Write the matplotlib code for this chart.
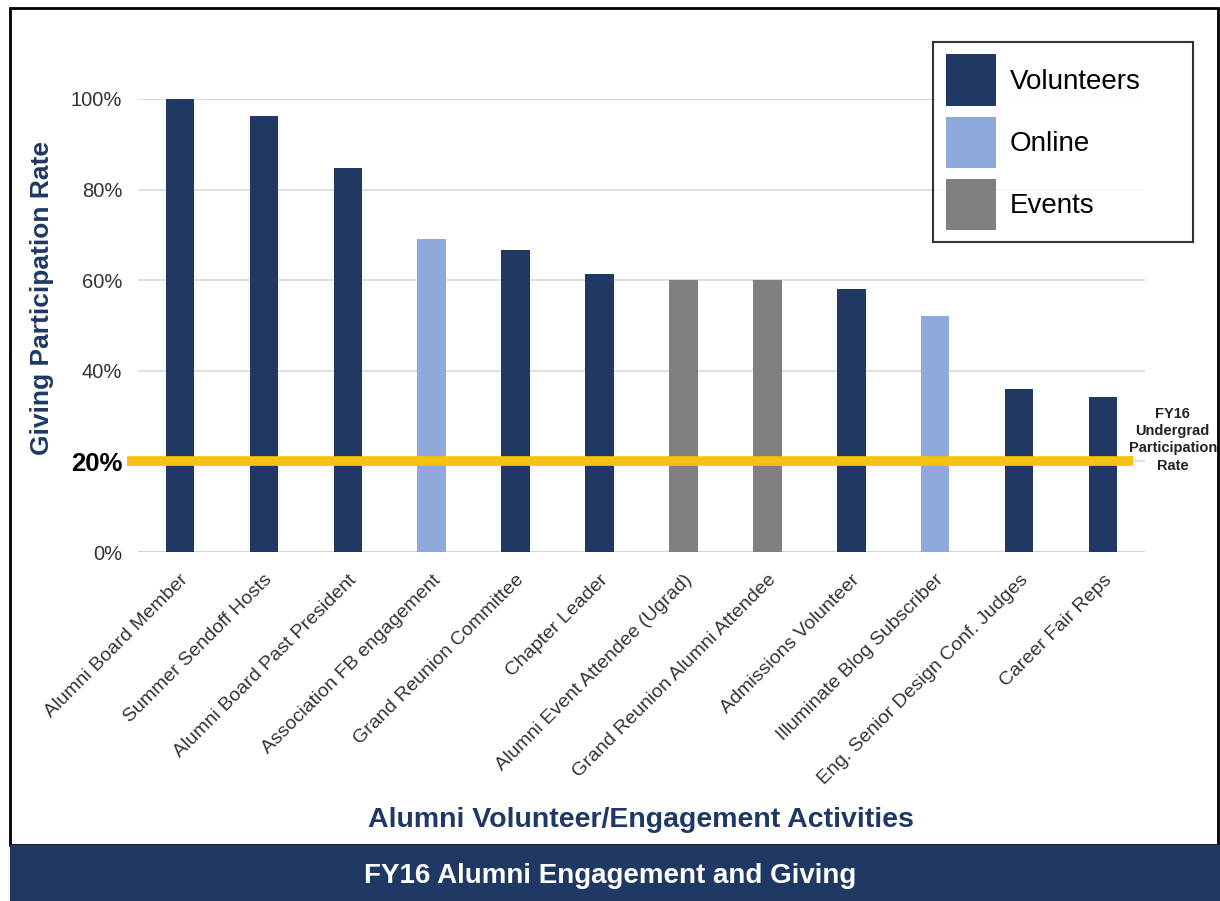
import matplotlib
matplotlib.use("Agg")
import matplotlib.pyplot as plt
from matplotlib.patches import Patch, Rectangle
from matplotlib.ticker import PercentFormatter

categories = ["Alumni Board Member", "Summer Sendoff Hosts", "Alumni Board Past President",
              "Association FB engagement", "Grand Reunion Committee", "Chapter Leader",
              "Alumni Event Attendee (Ugrad)", "Grand Reunion Alumni Attendee",
              "Admissions Volunteer", "Illuminate Blog Subscriber",
              "Eng. Senior Design Conf. Judges", "Career Fair Reps"]
values = [100, 96.2, 84.8, 69.1, 66.7, 61.4, 60.0, 60.0, 58.1, 52.1, 36.0, 34.2]
groups = ["Volunteers", "Volunteers", "Volunteers", "Online", "Volunteers", "Volunteers",
          "Events", "Events", "Volunteers", "Online", "Volunteers", "Volunteers"]
group_names = ["Volunteers", "Online", "Events"]
benchmark = 20
yticks = [0, 20, 40, 60, 80, 100]

colors = {"Volunteers": "#1F3864", "Online": "#8EA9DB", "Events": "#808080"}
NAVY = "#1F3864"

plt.rcParams['font.family'] = ['Liberation Sans', 'DejaVu Sans']

fig = plt.figure(figsize=(12.2, 9.01), dpi=100)
W, H = 1220, 901

def fx(px):
    return px / W

def fy(py):
    return 1 - py / H

# outer border
fig.patches.append(Rectangle((fx(10), fy(845)), fx(1208), (845 - 8) / H, transform=fig.transFigure,
                             fill=False, edgecolor="black", linewidth=2, zorder=0))
# bottom banner
fig.patches.append(Rectangle((fx(10), 0), fx(1210), fy(845), transform=fig.transFigure,
                             facecolor=NAVY, edgecolor="none", zorder=0))
fig.text(0.5, fy(876), "FY16 Alumni Engagement and Giving", color="white", fontsize=20,
         fontweight="bold", ha="center", va="center")

ax = fig.add_axes([fx(138), fy(552), fx(1145) - fx(138), (552 - 99) / H])
x = list(range(len(categories)))
ax.bar(x, values, width=0.34, color=[colors[g] for g in groups], zorder=3)
ax.set_xlim(-0.5, len(categories) - 0.5)
ax.set_ylim(0, 100)
ax.set_yticks(yticks)
ax.yaxis.set_major_formatter(PercentFormatter(decimals=0))
ax.grid(axis="y", color="#D9D9D9", linewidth=1.2, zorder=0)
for s in ax.spines.values():
    s.set_visible(False)
ax.axhline(0, color="#D0D4DC", linewidth=1.5, zorder=2)
ax.tick_params(axis="both", length=0, labelsize=14.5, labelcolor="#333333")
ax.tick_params(axis="y", pad=11.5)
ax.tick_params(axis="x", pad=14)
ax.set_xticks(x)
ax.set_xticklabels(categories, rotation=45, ha="right", rotation_mode="anchor", fontsize=14,
                   color="#333333")
for lab in ax.get_yticklabels():
    if lab.get_text() == "20%":
        lab.set_fontweight("bold")
        lab.set_fontsize(18.5)
        lab.set_color("black")

# benchmark line
ax.plot([-0.63, 11.36], [benchmark, benchmark], color="#F5C211", linewidth=7, zorder=4,
        clip_on=False, solid_capstyle="butt")
ax.text(11.83, benchmark + 4.8, "FY16\nUndergrad\nParticipation\nRate", fontsize=10.5,
        fontweight="bold", ha="center", va="center", color="#222222", linespacing=1.3,
        clip_on=False)

fig.text(fx(42), fy(298), "Giving Participation Rate", rotation=90, color=NAVY, fontsize=19,
         fontweight="bold", ha="center", va="center")
fig.text(fx(641), fy(820), "Alumni Volunteer/Engagement Activities", color=NAVY, fontsize=20.5,
         fontweight="bold", ha="center", va="center")

handles = [Patch(facecolor=colors[g], edgecolor="none") for g in group_names]
leg = fig.legend(handles, group_names, loc="upper left",
                 bbox_to_anchor=(fx(933), fy(239), fx(260), (239 - 42) / H), mode="expand",
                 fontsize=20, frameon=True,
                 fancybox=False, edgecolor="black", handlelength=1.8, handleheight=2.45,
                 labelspacing=0.4, borderpad=0.45, handletextpad=0.5, borderaxespad=0)
leg.get_frame().set_linewidth(1.5)
leg.set_zorder(10)

fig.savefig("out.png", dpi=100)
